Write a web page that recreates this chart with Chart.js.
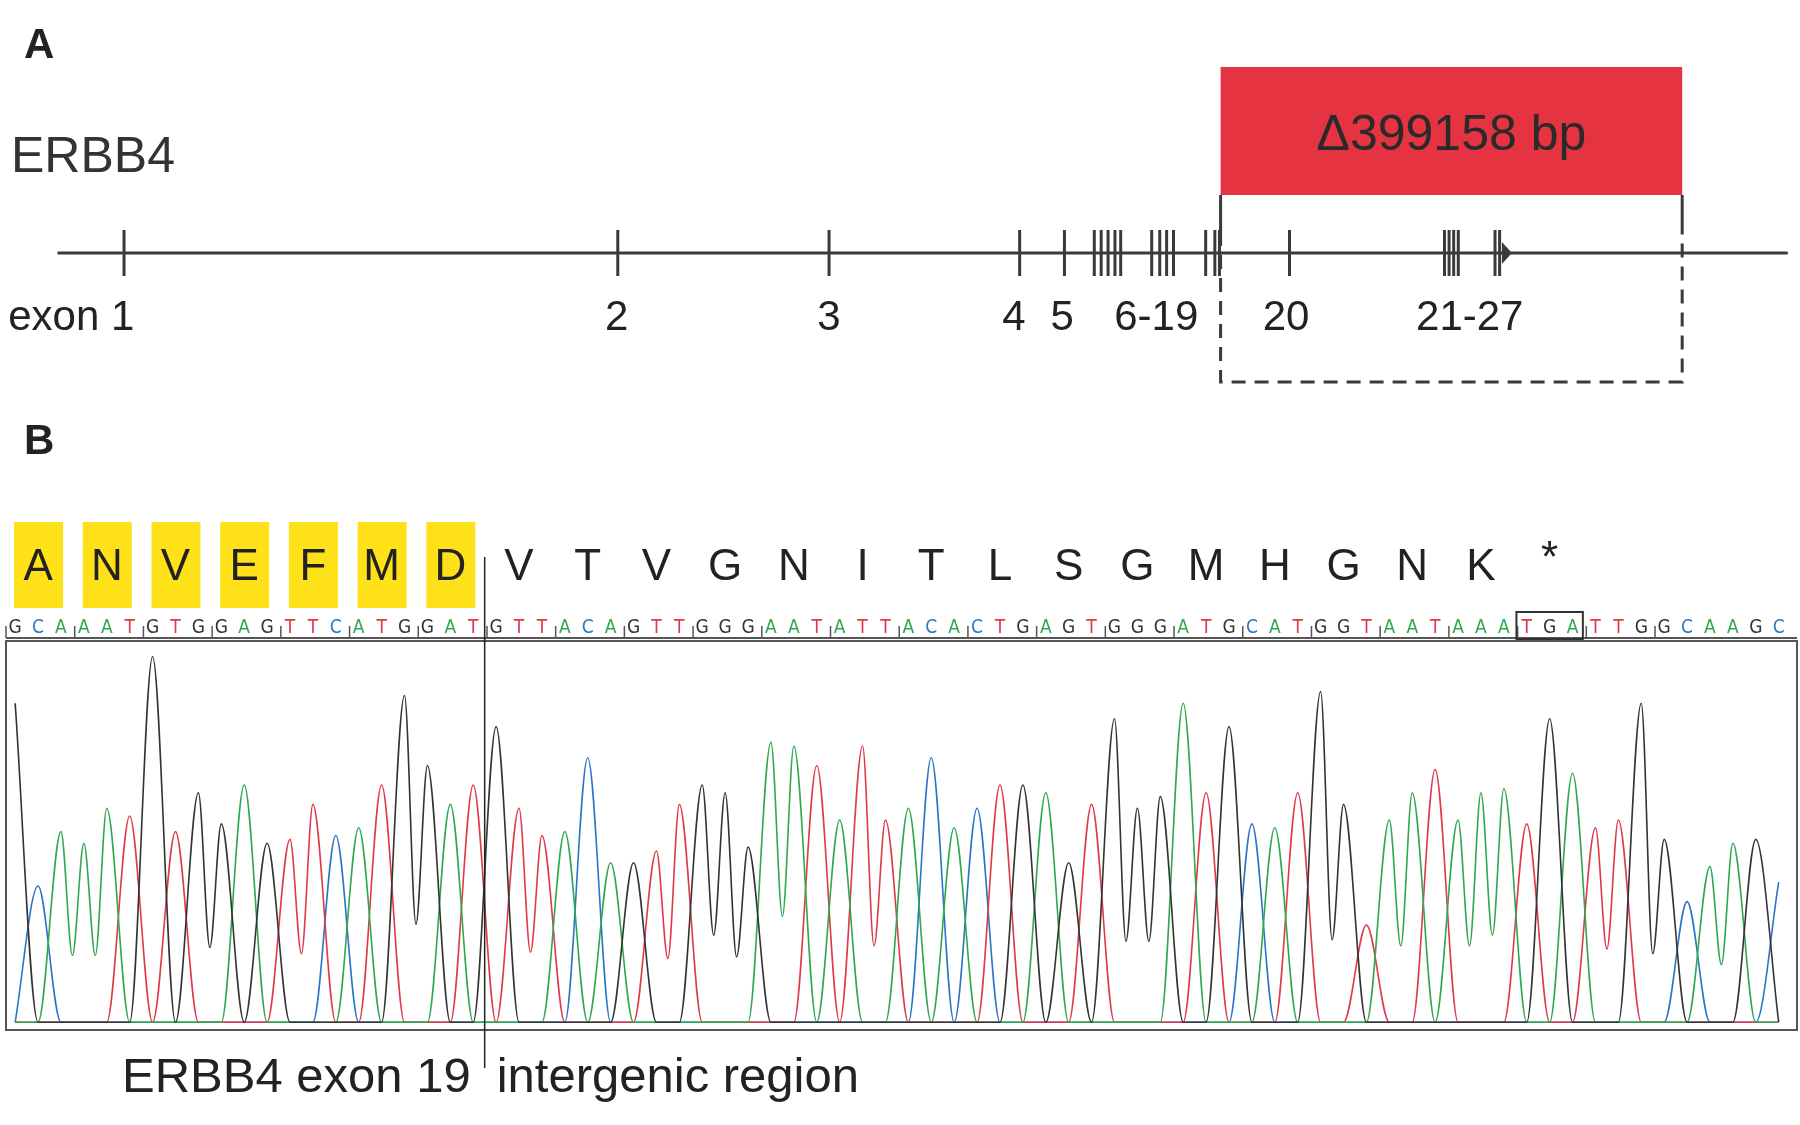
<!DOCTYPE html>
<html>
<head>
<meta charset="utf-8">
<script src="https://cdn.jsdelivr.net/npm/chart.js@4.4.1/dist/chart.umd.min.js"></script>
<style>
  body { margin: 0; background: #fff; }
  canvas { display: block; }
</style>
</head>
<body>
<canvas id="fig" width="1800" height="1125"></canvas>
<script>
// Panel A: gene map (positions in map units)
const exonPos = [108, 538, 722, 888, 927, 953, 959, 965, 971, 976, 1003, 1010, 1016, 1022, 1050, 1058, 1062, 1123, 1258, 1262, 1266, 1270, 1302, 1306];
const exonLabels = ['exon 1', '2', '3', '4', '5', '6-19', '20', '21-27'];
const exonLabelPos = [62, 537, 722, 883, 925, 1007, 1120, 1280];
const deletionRange = [1063, 1465];
const deletionLabel = 'Δ399158 bp';

// Panel B: sequence + chromatogram
const bases = 'GCAAATGTGGAGTTCATGGATGTTACAGTTGGGAATATTACACTGAGTGGGATGCATGGTAATAAATGATTGGCAAGC'.split('');
const peakHeights = [
  0.84, 0.37, 0.51, 0.48, 0.57, 0.55, 0.96, 0.51, 0.61, 0.53, 0.63, 0.48, 0.49, 0.58, 0.50, 0.52, 0.63, 0.86, 0.68, 0.58, 0.63,
  0.78, 0.57, 0.50, 0.51, 0.70, 0.43, 0.43, 0.46, 0.58, 0.63, 0.61, 0.47, 0.74, 0.73, 0.68, 0.54, 0.73, 0.54, 0.57, 0.70,
  0.52, 0.57, 0.63, 0.63, 0.61, 0.43, 0.58, 0.80, 0.57, 0.60, 0.84, 0.61, 0.78, 0.53, 0.52, 0.61, 0.87, 0.58, 0.27, 0.54,
  0.61, 0.67, 0.54, 0.61, 0.62, 0.53, 0.80, 0.66, 0.52, 0.54, 0.84, 0.49, 0.33, 0.42, 0.48, 0.49, 0.38
];
const aminoAcids = ['A', 'N', 'V', 'E', 'F', 'M', 'D', 'V', 'T', 'V', 'G', 'N', 'I', 'T', 'L', 'S', 'G', 'M', 'H', 'G', 'N', 'K', '*'];
const exonCodons = 7;
const stopCodon = 23;

const baseColors = { A: '#2fa84f', C: '#2b74c8', G: '#333333', T: '#e0394a' };
const baseline = 0.02;

// one point per base position; a shallow dip between neighbouring peaks of the same channel
function traceFor(b) {
  const pts = [];
  bases.forEach((x, i) => {
    const p = i + 1;
    pts.push({ x: p, y: x === b ? peakHeights[i] : baseline });
    if (x === b && bases[i + 1] === b) {
      pts.push({ x: p + 0.5, y: Math.min(peakHeights[i], peakHeights[i + 1]) * 0.4 });
    }
  });
  return pts;
}

const datasets = ['G', 'A', 'T', 'C'].map(b => ({
  label: b,
  data: traceFor(b),
  borderColor: baseColors[b],
  borderWidth: 1.6,
  pointRadius: 0,
  cubicInterpolationMode: 'monotone',
  fill: false
}));

const figurePlugin = {
  id: 'figure',
  afterDatasetsDraw(chart) {
    const ctx = chart.ctx;
    const x = chart.scales.x;
    const xa = chart.scales.xa;
    const area = chart.chartArea;
    ctx.save();

    // panel letters
    ctx.fillStyle = '#222';
    ctx.font = 'bold 42px "Liberation Sans", Arial';
    ctx.textBaseline = 'middle';
    ctx.fillText('A', 24, 46);
    ctx.fillText('B', 24, 442);

    // gene name
    ctx.font = '50px "Liberation Sans", Arial';
    ctx.fillStyle = '#333';
    ctx.fillText('ERBB4', 11, 158);

    // backbone
    ctx.strokeStyle = '#3a3a3a';
    ctx.lineWidth = 3;
    ctx.beginPath();
    ctx.moveTo(xa.getPixelForValue(50), 253);
    ctx.lineTo(xa.getPixelForValue(1557), 253);
    ctx.stroke();
    exonPos.forEach(p => {
      const px = xa.getPixelForValue(p);
      ctx.beginPath();
      ctx.moveTo(px, 230);
      ctx.lineTo(px, 276);
      ctx.stroke();
    });
    const ax = xa.getPixelForValue(1308);
    ctx.fillStyle = '#3a3a3a';
    ctx.beginPath();
    ctx.moveTo(ax, 242); ctx.lineTo(ax + 10, 253); ctx.lineTo(ax, 264); ctx.fill();

    ctx.fillStyle = '#222';
    ctx.font = '42px "Liberation Sans", Arial';
    ctx.textAlign = 'center';
    exonLabels.forEach((t, i) => ctx.fillText(t, xa.getPixelForValue(exonLabelPos[i]), 318));

    // deletion box
    const d0 = xa.getPixelForValue(deletionRange[0]);
    const d1 = xa.getPixelForValue(deletionRange[1]);
    ctx.fillStyle = '#e63342';
    ctx.fillRect(d0, 67, d1 - d0, 128);
    ctx.fillStyle = '#2a2a2a';
    ctx.font = '50px "Liberation Sans", Arial';
    ctx.fillText(deletionLabel, (d0 + d1) / 2, 136);
    ctx.strokeStyle = '#3a3a3a';
    ctx.lineWidth = 3;
    ctx.beginPath();
    ctx.moveTo(d0, 195); ctx.lineTo(d0, 232);
    ctx.moveTo(d1, 195); ctx.lineTo(d1, 232);
    ctx.stroke();
    ctx.setLineDash([14, 9]);
    ctx.beginPath();
    ctx.moveTo(d0, 232); ctx.lineTo(d0, 382); ctx.lineTo(d1, 382); ctx.lineTo(d1, 232);
    ctx.stroke();
    ctx.setLineDash([]);

    // amino acids
    ctx.font = '44px "Liberation Sans", Arial';
    aminoAcids.forEach((aa, i) => {
      const cx = x.getPixelForValue(i * 3 + 2);
      if (i < exonCodons) {
        ctx.fillStyle = '#ffe11a';
        ctx.fillRect(cx - 24, 522, 49, 86);
      }
      ctx.fillStyle = '#222';
      ctx.fillText(aa, cx, aa === '*' ? 560 : 568);
    });

    // base calls
    ctx.font = '19px "DejaVu Sans Condensed", "DejaVu Sans", Arial';
    bases.forEach((b, i) => {
      ctx.fillStyle = baseColors[b];
      ctx.fillText(b, x.getPixelForValue(i + 1), 628);
    });
    ctx.strokeStyle = '#555';
    ctx.lineWidth = 2;
    ctx.beginPath();
    ctx.moveTo(area.left, 638); ctx.lineTo(area.right, 638);
    ctx.stroke();
    ctx.lineWidth = 1.5;
    for (let c = 0; c < bases.length / 3 - 1; c++) {
      const tx = x.getPixelForValue(c * 3 + 0.6);
      ctx.beginPath(); ctx.moveTo(tx, 626); ctx.lineTo(tx, 638); ctx.stroke();
    }
    const s0 = x.getPixelForValue((stopCodon - 1) * 3 + 0.55);
    const s1 = x.getPixelForValue((stopCodon - 1) * 3 + 3.45);
    ctx.strokeStyle = '#333';
    ctx.lineWidth = 2;
    ctx.strokeRect(s0, 612, s1 - s0, 27);

    // frame
    ctx.strokeStyle = '#555';
    ctx.lineWidth = 2;
    ctx.strokeRect(area.left, area.top, area.right - area.left, area.bottom - area.top);

    // junction
    const jx = x.getPixelForValue(exonCodons * 3 + 0.5);
    ctx.strokeStyle = '#222';
    ctx.lineWidth = 1.5;
    ctx.beginPath(); ctx.moveTo(jx, 557); ctx.lineTo(jx, 1068); ctx.stroke();

    ctx.fillStyle = '#222';
    ctx.font = '49px "Liberation Sans", Arial';
    ctx.textAlign = 'right';
    ctx.fillText('ERBB4 exon 19', jx - 14, 1078);
    ctx.textAlign = 'left';
    ctx.fillText('intergenic region', jx + 12, 1078);
    ctx.restore();
  }
};

new Chart(document.getElementById('fig'), {
  type: 'line',
  data: { datasets },
  options: {
    responsive: false,
    animation: false,
    devicePixelRatio: 1,
    layout: { padding: { left: 6, right: 3, top: 641, bottom: 95 } },
    plugins: { legend: { display: false }, tooltip: { enabled: false } },
    scales: {
      x: { type: 'linear', min: 0.6, max: 78.8, display: false },
      y: { min: 0, max: 1.0, display: false },
      xa: { type: 'linear', axis: 'x', min: 5.2, max: 1565, display: false }
    }
  },
  plugins: [figurePlugin]
});
</script>
</body>
</html>
